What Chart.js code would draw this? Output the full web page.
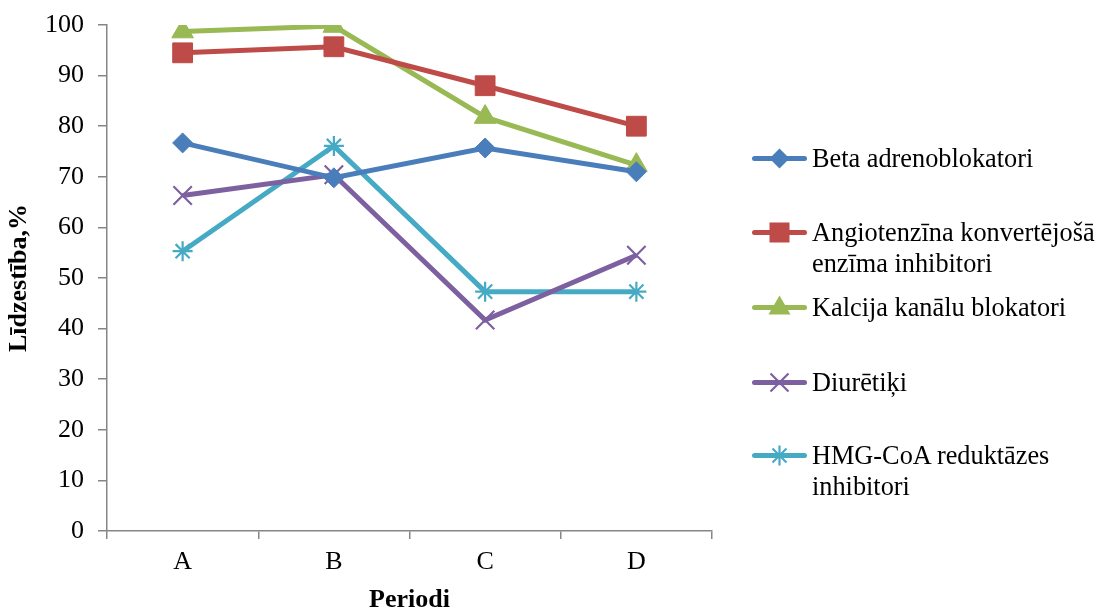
<!DOCTYPE html>
<html>
<head>
<meta charset="utf-8">
<script src="https://cdn.jsdelivr.net/npm/chart.js@4"></script>
<style>
  html, body { margin: 0; padding: 0; background: #fff; }
  #wrap { position: relative; width: 1100px; height: 609px; }
  #c { position: absolute; left: 0; top: 0; }
  .leg { position: absolute; left: 752px; font-family: 'Liberation Serif', 'Times New Roman', serif; font-size: 26.3px; line-height: 31px; color: #000; display: flex; align-items: flex-start; }
  .leg svg { flex: none; margin-top: 0; }
  .leg span { margin-left: 5px; white-space: nowrap; }
</style>
</head>
<body>
<div id="wrap">
  <canvas id="c" width="1100" height="609"></canvas>
</div>
<script>
const categories = ['A', 'B', 'C', 'D'];
const seriesNames = [
  'Beta adrenoblokatori',
  ['Angiotenzīna konvertējošā', 'enzīma inhibitori'],
  'Kalcija kanālu blokatori',
  'Diurētiķi',
  ['HMG-CoA reduktāzes', 'inhibitori']
];
const betaValues = [76.7, 69.8, 75.7, 71.0];
const aceValues = [94.5, 95.7, 88.0, 80.0];
const calciumValues = [98.7, 99.8, 81.8, 72.3];
const diureticValues = [66.3, 70.4, 41.7, 54.5];
const hmgValues = [55.3, 76.1, 47.3, 47.3];
const yTicks = [0, 10, 20, 30, 40, 50, 60, 70, 80, 90, 100];

const colors = ['#4A7EBB', '#BE4B48', '#98B954', '#7D60A0', '#46AAC5'];
const styles = ['rectRot', 'rect', 'triangle', 'crossRot', 'star'];
const radii = [10, 14, 12.5, 13, 10];
const allValues = [betaValues, aceValues, calciumValues, diureticValues, hmgValues];

const datasets = allValues.map((vals, i) => ({
  label: Array.isArray(seriesNames[i]) ? seriesNames[i].join(' ') : seriesNames[i],
  data: vals,
  borderColor: colors[i],
  backgroundColor: colors[i],
  borderWidth: 5,
  pointStyle: styles[i],
  pointRadius: radii[i],
  pointHoverRadius: radii[i],
  pointBorderWidth: (i >= 3) ? 2.2 : 1,
  pointBorderColor: colors[i],
  pointBackgroundColor: colors[i],
  tension: 0
}));

const FONT = "'Liberation Serif', 'Times New Roman', serif";

new Chart(document.getElementById('c'), {
  type: 'line',
  data: { labels: categories, datasets },
  options: {
    responsive: false,
    animation: false,
    devicePixelRatio: 1,
    layout: { padding: { top: 25, right: 388, left: 0, bottom: 0 } },
    plugins: { legend: { display: false }, tooltip: { enabled: false } },
    scales: {
      x: {
        offset: true,
        grid: { display: true, offset: true, drawOnChartArea: false, drawTicks: true, tickLength: 8, color: '#868686', lineWidth: 1.5 },
        border: { display: true, color: '#868686', width: 1.5 },
        ticks: { color: '#000', font: { family: FONT, size: 26 }, padding: 8, maxRotation: 0 },
        title: { display: true, text: 'Periodi', color: '#000', font: { family: FONT, size: 26, weight: 'bold', lineHeight: 1 }, padding: { top: 0, bottom: -4 } },
        afterFit: (s) => { s.height = 78; s.paddingLeft = 0; s.paddingRight = 0; }
      },
      y: {
        min: 0, max: 100,
        afterBuildTicks: (s) => { s.ticks = yTicks.map(v => ({ value: v })); },
        grid: { display: true, drawOnChartArea: false, drawTicks: true, tickLength: 9, color: '#868686', lineWidth: 1.5 },
        border: { display: true, color: '#868686', width: 1.5 },
        ticks: { color: '#000', font: { family: FONT, size: 26 }, padding: 14 },
        title: { display: true, text: 'Līdzestība,%', color: '#000', font: { family: FONT, size: 26, weight: 'bold', lineHeight: 1.2 }, padding: { top: 4, bottom: 4 } },
        afterFit: (s) => { s.width = 107; s.paddingTop = 0; s.paddingBottom = 0; }
      }
    }
  }
});

// HTML legend
const legendTops = [143, 217, 292, 367, 440];
const wrap = document.getElementById('wrap');
function markerSvg(i) {
  const c = colors[i];
  let m = '';
  const cx = 27.5, cy = 15.5;
  if (styles[i] === 'rectRot') m = `<polygon points="${cx},${cy-10} ${cx+10},${cy} ${cx},${cy+10} ${cx-10},${cy}" fill="${c}"/>`;
  else if (styles[i] === 'rect') m = `<rect x="${cx-10}" y="${cy-10}" width="20" height="20" fill="${c}"/>`;
  else if (styles[i] === 'triangle') m = `<polygon points="${cx},${cy-12} ${cx+11},${cy+7} ${cx-11},${cy+7}" fill="${c}"/>`;
  else if (styles[i] === 'crossRot') m = `<path d="M${cx-9},${cy-9}L${cx+9},${cy+9}M${cx+9},${cy-9}L${cx-9},${cy+9}" stroke="${c}" stroke-width="2.2"/>`;
  else m = `<path d="M${cx-7},${cy-7}L${cx+7},${cy+7}M${cx+7},${cy-7}L${cx-7},${cy+7}M${cx},${cy-10}L${cx},${cy+10}" stroke="${c}" stroke-width="2.2"/>`;
  return `<svg width="55" height="31"><line x1="2.5" y1="${cy}" x2="52.5" y2="${cy}" stroke="${c}" stroke-width="5" stroke-linecap="round"/>${m}</svg>`;
}
seriesNames.forEach((name, i) => {
  const d = document.createElement('div');
  d.className = 'leg';
  d.style.top = legendTops[i] + 'px';
  const text = Array.isArray(name) ? name.join('<br>') : name;
  d.innerHTML = markerSvg(i) + `<span>${text}</span>`;
  wrap.appendChild(d);
});
</script>
</body>
</html>
